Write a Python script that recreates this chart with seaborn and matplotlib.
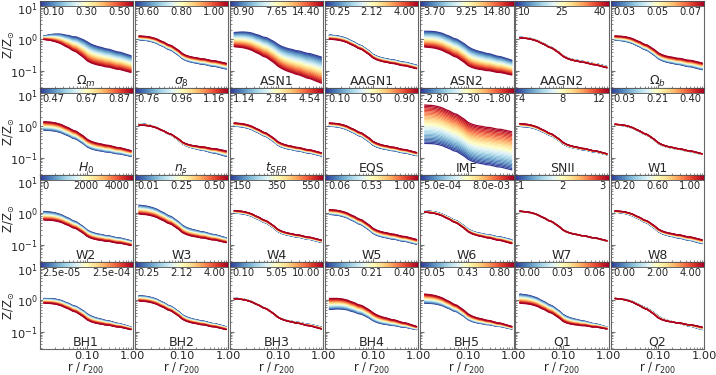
import numpy as np
import pandas as pd
import seaborn as sns
import matplotlib.pyplot as plt
from matplotlib.cm import ScalarMappable
from matplotlib.colors import Normalize
from matplotlib.ticker import FormatStrFormatter, NullFormatter

# radial grid (log10 r/r200) and mean metallicity profile (log10 Z/Zsun)
log_r = [-1.95, -1.88, -1.80, -1.72, -1.64, -1.56, -1.48, -1.40, -1.32, -1.24,
         -1.16, -1.08, -1.00, -0.92, -0.84, -0.76, -0.68, -0.60, -0.52, -0.44,
         -0.36, -0.28, -0.20, -0.12, -0.04]
base_logz = [0.05, 0.04, 0.03, 0.01, -0.02, -0.06, -0.12, -0.17, -0.24, -0.28,
             -0.36, -0.44, -0.54, -0.60, -0.64, -0.67, -0.69, -0.72, -0.73, -0.76,
             -0.79, -0.80, -0.83, -0.86, -0.89]

# shifts (dex) of the lowest / highest parameter profile at inner, middle, outer radius
anchor_logr = [-1.95, -1.0, -0.04]

panel_names = [r'$\Omega_m$', r'$\sigma_8$', 'ASN1', 'AAGN1', 'ASN2', 'AAGN2', r'$\Omega_b$',
               r'$H_0$', r'$n_s$', r'$t_{SFR}$', 'EQS', 'IMF', 'SNII', 'W1',
               'W2', 'W3', 'W4', 'W5', 'W6', 'W7', 'W8',
               'BH1', 'BH2', 'BH3', 'BH4', 'BH5', 'Q1', 'Q2']

cbar_labels = [['0.10', '0.30', '0.50'], ['0.60', '0.80', '1.00'], ['0.90', '7.65', '14.40'],
               ['0.25', '2.12', '4.00'], ['3.70', '9.25', '14.80'], ['10', '25', '40'],
               ['0.03', '0.05', '0.07'],
               ['0.47', '0.67', '0.87'], ['0.76', '0.96', '1.16'], ['1.14', '2.84', '4.54'],
               ['0.10', '0.50', '0.90'], ['-2.80', '-2.30', '-1.80'], ['4', '8', '12'],
               ['0.03', '0.21', '0.40'],
               ['0', '2000', '4000'], ['0.01', '0.25', '0.50'], ['150', '350', '550'],
               ['0.06', '0.53', '1.00'], ['5.0e-04', '', '8.0e-03'], ['1', '2', '3'],
               ['0.20', '0.60', '1.00'],
               ['2.5e-05', '', '2.5e-04'], ['0.25', '2.12', '4.00'], ['0.10', '5.05', '10.00'],
               ['0.03', '0.21', '0.40'], ['0.05', '0.43', '0.80'], ['0.00', '0.03', '0.06'],
               ['0.00', '2.00', '4.00']]

low_shift = [(0.05, 0.45, 0.36), (-0.07, -0.08, -0.06), (0.16, 0.38, 0.32), (0.08, 0.06, 0.06),
             (0.20, 0.30, 0.22), (0.01, 0.01, 0.02), (-0.08, -0.08, -0.08),
             (-0.18, -0.12, -0.07), (0.03, -0.02, -0.07), (-0.05, -0.06, -0.06), (-0.05, -0.06, -0.05),
             (-0.60, -0.51, -0.50), (-0.06, -0.03, -0.02), (-0.01, -0.01, -0.01),
             (0.00, 0.00, 0.01), (0.20, 0.15, 0.10), (-0.05, -0.04, -0.04), (-0.09, -0.10, -0.10),
             (0.02, 0.03, 0.04), (0.00, 0.00, 0.00), (-0.02, -0.05, -0.08),
             (0.00, 0.10, 0.03), (0.09, 0.07, 0.04), (0.01, 0.00, 0.03), (-0.35, -0.11, -0.05),
             (-0.15, -0.08, -0.03), (0.14, 0.08, 0.03), (0.00, 0.02, -0.05)]

high_shift = [(-0.06, -0.15, -0.17), (0.05, 0.08, 0.12), (-0.29, -0.31, -0.51), (-0.05, -0.05, -0.05),
              (-0.30, -0.30, -0.25), (-0.01, -0.01, -0.02), (0.05, 0.10, 0.13),
              (0.09, 0.12, 0.11), (-0.02, 0.03, 0.10), (0.05, 0.05, 0.04), (0.05, 0.06, 0.05),
              (0.62, 0.66, 0.71), (0.03, 0.02, 0.01), (0.01, 0.01, 0.01),
              (-0.27, -0.20, -0.14), (-0.08, -0.08, -0.05), (0.03, 0.03, 0.03), (0.06, 0.06, 0.05),
              (-0.02, -0.05, -0.08), (0.01, 0.00, 0.01), (0.02, 0.03, 0.04),
              (-0.15, -0.09, -0.05), (-0.08, -0.07, -0.05), (-0.01, 0.00, -0.03), (0.00, 0.14, 0.05),
              (0.14, 0.10, 0.05), (-0.15, -0.14, -0.03), (0.00, -0.03, 0.03)]

n_lines = 30

sns.set_style('ticks')
plt.rcParams['font.family'] = ['DejaVu Sans']

fig, axes = plt.subplots(4, 7, figsize=(7.16, 3.75), dpi=100)
fig.subplots_adjust(left=0.0552, right=0.9832, top=0.997, bottom=0.0693, wspace=0.02, hspace=0.0)

r = 10 ** np.array(log_r)
base = np.array(base_logz)
sm = ScalarMappable(norm=Normalize(0, 1), cmap='RdYlBu_r')

for i, ax in enumerate(axes.flat):
    row, col = divmod(i, 7)
    lo = np.interp(log_r, anchor_logr, low_shift[i])
    hi = np.interp(log_r, anchor_logr, high_shift[i])
    parts = []
    for t in np.linspace(0, 1, n_lines):
        parts.append(pd.DataFrame({'r': r, 'Z': 10 ** (base + (1 - t) * lo + t * hi), 'p': t}))
    df = pd.concat(parts, ignore_index=True)

    ax.set_xscale('log')
    ax.set_yscale('log')
    sns.lineplot(data=df, x='r', y='Z', hue='p', units='p', estimator=None,
                 palette='RdYlBu_r', hue_norm=(0, 1), legend=False, lw=0.9, ax=ax)
    ax.set_xlim(0.009, 1.0)
    ax.set_ylim(0.0278, 16.1)
    ax.set_xticks([0.1, 1.0])
    ax.xaxis.set_major_formatter(FormatStrFormatter('%.2f'))
    ax.xaxis.set_minor_formatter(NullFormatter())
    ax.set_yticks([0.1, 1, 10])
    ax.tick_params(which='both', direction='in', color='0.45', labelsize=8.2, pad=1.2)
    ax.tick_params(which='major', length=3)
    ax.tick_params(which='minor', length=1.5)
    for s in ax.spines.values():
        s.set_color('0.4')
        s.set_linewidth(0.8)

    if col == 0:
        ax.set_ylabel(r'Z/Z$_{\odot}$', fontsize=8.5)
        ax.yaxis.set_label_coords(-0.245, 0.5)
    else:
        ax.set_ylabel('')
        ax.tick_params(axis='y', which='both', labelleft=False)
    if row == 3:
        ax.set_xlabel(r'r / $r_{200}$', fontsize=8.3)
        ax.xaxis.set_label_coords(0.5, -0.14)
    else:
        ax.set_xlabel('')
        ax.tick_params(axis='x', which='both', labelbottom=False)

    # colour strip for the varied parameter
    cax = ax.inset_axes([0, 0.94, 1, 0.06])
    cb = fig.colorbar(sm, cax=cax, orientation='horizontal')
    cb.set_ticks([])
    cb.outline.set_edgecolor('0.3')
    cb.outline.set_linewidth(0.6)

    left, mid, right = cbar_labels[i]
    ax.text(0.03, 0.875, left, transform=ax.transAxes, ha='left', va='center', fontsize=7.2)
    ax.text(0.5, 0.875, mid, transform=ax.transAxes, ha='center', va='center', fontsize=7.2)
    ax.text(0.97, 0.875, right, transform=ax.transAxes, ha='right', va='center', fontsize=7.2)
    ax.text(0.5, 0.04, panel_names[i], transform=ax.transAxes, ha='center', va='baseline', fontsize=9)

plt.savefig('out.png', dpi=100)
